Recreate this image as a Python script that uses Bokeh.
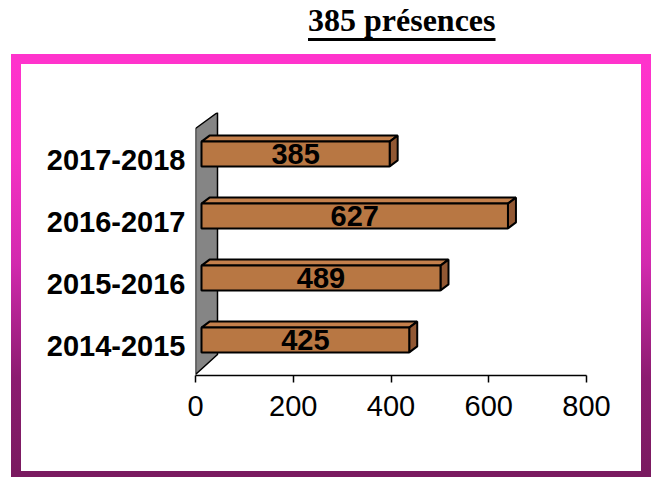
from bokeh.plotting import figure
from bokeh.models import FixedTicker, Div
from bokeh.layouts import column
from bokeh.core.properties import value
from bokeh.embed import file_html
from bokeh.resources import INLINE

# ---- data ----
years = ["2014-2015", "2015-2016", "2016-2017", "2017-2018"]
presences = [425, 489, 627, 385]
x_ticks = [0, 200, 400, 600, 800]
title_text = "385 présences"

# ---- layout constants ----
OX, OY = 21, 64            # page position of the figure canvas (inside the pink frame)
W, H = 640, 423            # border-box size of the framed figure
L, T = 174, 48
FW, FH = 391, 263
R, B = W - L - FW, H - T - FH
XMIN, XMAX = 0, 800
YMIN, YMAX = -0.468, 3.774
upx = (XMAX - XMIN) / FW      # data units per px (x)
vpx = (YMAX - YMIN) / FH      # data units per px (y)

def YP(page_y):
    return YMAX - (page_y - OY - T) * vpx

p = figure(width=W, height=H, x_range=(XMIN, XMAX), y_range=(YMIN, YMAX),
           output_backend="svg", toolbar_location=None,
           min_border_left=L, min_border_right=R, min_border_top=T, min_border_bottom=B,
           styles={"border-style": "solid",
                   "border-width": "10px 10px 6px 10px",
                   "border-image": "linear-gradient(to bottom, #ff33cc 0%, #f531c4 23%, "
                                   "#d22aae 49%, #8c1c70 77%, #7a1a60 100%) 1",
                   "margin-left": "11px"})
p.outline_line_color = None
p.grid.grid_line_color = None
p.background_fill_color = "white"
p.border_fill_color = "white"

# x axis
xa = p.xaxis[0]
xa.ticker = FixedTicker(ticks=x_ticks)
xa.axis_line_color = "black"
xa.axis_line_width = 1.5
xa.major_tick_line_color = "black"
xa.major_tick_line_width = 1.5
xa.major_tick_out = 7
xa.major_tick_in = 0
xa.minor_tick_line_color = None
xa.major_label_text_font = "Liberation Sans"
xa.major_label_text_font_size = "29px"
xa.major_label_text_color = "black"
xa.major_label_standoff = 13

# y axis
ya = p.yaxis[0]
ya.ticker = FixedTicker(ticks=list(range(len(years))))
ya.major_label_overrides = {i: y for i, y in enumerate(years)}
ya.axis_line_color = None
ya.major_tick_line_color = None
ya.minor_tick_line_color = None
ya.major_label_text_font = "Liberation Sans"
ya.major_label_text_font_style = "bold"
ya.major_label_text_font_size = "29px"
ya.major_label_text_color = "black"
ya.major_label_standoff = 4

# ---- 3D wall ----
wall_dx = 22 * upx
p.patch(x=[0, 0, wall_dx, wall_dx],
        y=[YP(374), YP(128), YP(112), YP(354)],
        fill_color="#858585", line_color="black", line_width=1.5)

# ---- 3D bars ----
x0 = 6 * upx
dx = 8 * upx
dy = 6 * vpx
off = 6.5 * vpx
hh = 0.2
fx, ftop, fbot, fright = [], [], [], []
top_xs, top_ys, side_xs, side_ys = [], [], [], []
lab_x, lab_y, lab_t = [], [], []
for k, v in enumerate(presences):
    x1 = v + x0
    yc = k + off
    yt, yb = yc + hh, yc - hh
    fx.append(x0); fright.append(x1); ftop.append(yt); fbot.append(yb)
    top_xs.append([x0, x0 + dx, x1 + dx, x1])
    top_ys.append([yt, yt + dy, yt + dy, yt])
    side_xs.append([x1, x1, x1 + dx, x1 + dx])
    side_ys.append([yb, yt, yt + dy, yb + dy])
    lab_x.append((x0 + x1) / 2)
    lab_y.append(yc)
    lab_t.append(str(v))

p.patches(xs=top_xs, ys=top_ys, fill_color="#c4804c", line_color="black", line_width=2)
p.patches(xs=side_xs, ys=side_ys, fill_color="#925833", line_color="black", line_width=2)
p.quad(left=fx, right=fright, top=ftop, bottom=fbot,
       fill_color="#b87743", line_color="black", line_width=2)
p.text(x=lab_x, y=lab_y, text=lab_t, text_align="center", text_baseline="middle",
       text_font=value("Liberation Sans"), text_font_style="bold",
       text_font_size="29px", text_color="black")

# ---- title (underlined) ----
title = Div(width=654, height=44,
            text=('<div style="margin:-1px 0 0 0;padding:0 0 0 303px;'
                  'font-family:\'Liberation Serif\';font-weight:bold;font-size:32px;'
                  'line-height:32px;color:black;text-decoration:underline;'
                  'text-decoration-thickness:3px;text-underline-offset:7px;white-space:nowrap;">'
                  + title_text + '</div>'))

layout = column(title, p, spacing=0)
open("out.html", "w").write(file_html(layout, INLINE))
